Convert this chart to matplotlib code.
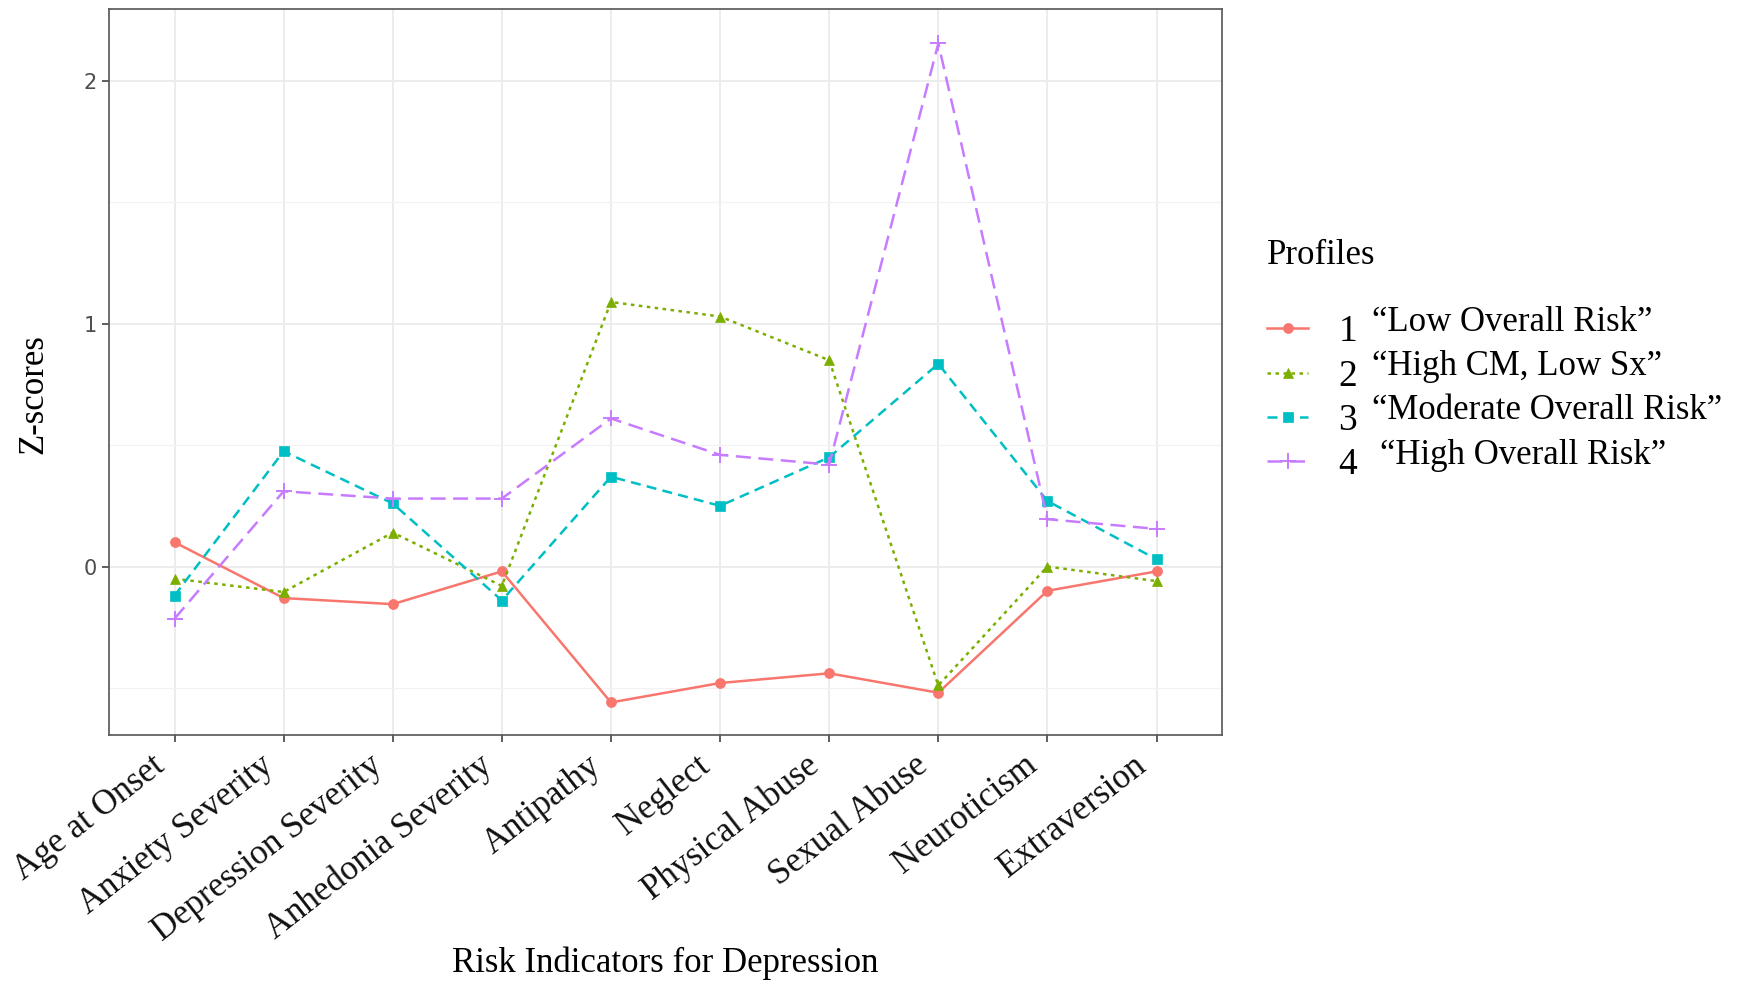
import matplotlib
matplotlib.use("Agg")
import matplotlib.pyplot as plt
import matplotlib.transforms as mtransforms
from matplotlib.ticker import MultipleLocator

# ===== data (z-scores) =====
indicators = ["Age at Onset", "Anxiety Severity", "Depression Severity",
              "Anhedonia Severity", "Antipathy", "Neglect", "Physical Abuse",
              "Sexual Abuse", "Neuroticism", "Extraversion"]

profile_ids = ["1", "2", "3", "4"]
profile_names = ["\u201cLow Overall Risk\u201d", "\u201cHigh CM, Low Sx\u201d",
                 "\u201cModerate Overall Risk\u201d", "\u201cHigh Overall Risk\u201d"]

p1 = [0.10, -0.13, -0.155, -0.02, -0.56, -0.48, -0.44, -0.52, -0.10, -0.02]
p2 = [-0.05, -0.105, 0.14, -0.08, 1.09, 1.03, 0.85, -0.49, 0.00, -0.06]
p3 = [-0.12, 0.475, 0.26, -0.14, 0.37, 0.25, 0.45, 0.835, 0.27, 0.03]
p4 = [-0.215, 0.31, 0.28, 0.28, 0.61, 0.46, 0.42, 2.155, 0.195, 0.155]

# ===== style =====
colors = ["#F8766D", "#7CAE00", "#00BFC4", "#C77CFF"]
markers = ["o", "^", "s", "+"]
dashes = [None, (1.4, 1.8), (4, 2.5), (6, 3)]

SERIF = ["Liberation Serif", "DejaVu Serif"]

fig = plt.figure(figsize=(17.39, 9.81), dpi=100)
ax = fig.add_axes([0.0627, 0.2508, 0.640, 0.740])

x = list(range(len(indicators)))
lines = []
for vals, c, m, d in zip([p1, p2, p3, p4], colors, markers, dashes):
    ln, = ax.plot(x, vals, color=c, marker=m, lw=1.8,
                  markersize=12 if m == "+" else 7.2,
                  markeredgewidth=1.4 if m == "+" else 0.5)
    if d is not None:
        ln.set_dashes(d)
    lines.append(ln)

ax.set_xlim(-0.6, 9.6)
ax.set_ylim(-0.694, 2.297)
ax.yaxis.set_major_locator(MultipleLocator(1))
ax.yaxis.set_minor_locator(MultipleLocator(0.5))

ax.grid(True, which="major", color="#EBEBEB", lw=1.3)
ax.grid(True, which="minor", axis="y", color="#F2F2F2", lw=0.8)
ax.set_axisbelow(True)
ax.tick_params(axis="y", which="minor", length=0)
ax.tick_params(axis="both", which="major", length=5, width=1.1, color="#333333")
ax.tick_params(axis="x", pad=5)
ax.tick_params(axis="y", labelsize=15, labelcolor="#4D4D4D")
for s in ax.spines.values():
    s.set_color("#555555")
    s.set_linewidth(1.2)

ax.set_xticks(x)
ax.set_xticklabels(indicators, rotation=38, ha="right", va="top",
                   rotation_mode="anchor", fontsize=25, family=SERIF,
                   color="#111111")
# labels sit a little left of their ticks in the original
shift = mtransforms.ScaledTranslation(-0.24, 0, fig.dpi_scale_trans)
for lbl in ax.get_xticklabels():
    lbl.set_transform(lbl.get_transform() + shift)

ax.set_xlabel("Risk Indicators for Depression", family=SERIF, fontsize=25, va="center")
ax.set_ylabel("Z-scores", family=SERIF, fontsize=25, va="center")
ax.xaxis.set_label_coords(0.50, -0.314)
ax.yaxis.set_label_coords(-0.068, 0.47)

# legend: title, handles with profile numbers, then the profile names beside them
fig.text(0.7286, 0.740, "Profiles", family=SERIF, fontsize=25, va="center", ha="left")
leg = fig.legend(lines, profile_ids, loc="upper left",
                 bbox_to_anchor=(0.7286, 0.679), frameon=False,
                 prop={"family": SERIF, "size": 27}, handlelength=1.1,
                 labelspacing=0.26, handletextpad=0.8, borderaxespad=0,
                 borderpad=0)

fig.canvas.draw()
inv = fig.transFigure.inverted()
name_x = [0.789, 0.789, 0.789, 0.7935]
for t, name, nx in zip(leg.get_texts(), profile_names, name_x):
    bb = t.get_window_extent()
    (x0, y0), (x1, y1) = inv.transform([[bb.x0, bb.y0], [bb.x1, bb.y1]])
    fig.text(nx, (y0 + y1) / 2 + 0.010, name, family=SERIF, fontsize=25,
             va="center", ha="left")

fig.savefig("out.png", dpi=100)
